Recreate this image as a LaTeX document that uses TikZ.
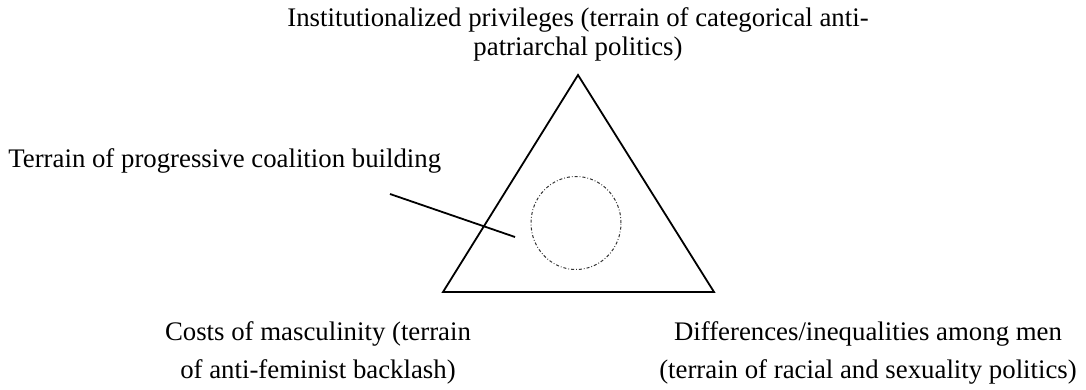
\documentclass[tikz,border=0pt]{standalone}
\usepackage{fontspec}
\setmainfont{Liberation Serif}
\usetikzlibrary{shapes.geometric}
\begin{document}
\begin{tikzpicture}[x=0.5pt,y=-0.5pt,
  lbl/.style={inner sep=0pt,font=\fontsize{13.4}{14.5}\selectfont},
  wide/.style={font=\fontsize{13.4}{19}\selectfont},
  edge/.style={line width=0.9pt},
  ring/.style={line width=0.5pt,black!80,dash pattern=on 1.5pt off 1pt on 0.4pt off 1pt}]
\useasboundingbox (0,0) rectangle (1086,390);
\coordinate (A) at (578,75);
\coordinate (B) at (443,292);
\coordinate (C) at (714,292);
\draw[edge,line join=miter] (A) -- (B) -- (C) -- cycle;
\node[ring,draw,ellipse,minimum width=45pt,minimum height=46.5pt,inner sep=0pt] (circ) at (576,223) {};
\node[lbl,anchor=base,align=center] (top) at (578,56) {Institutionalized privileges (terrain of categorical anti-\\patriarchal politics)};
\node[lbl,anchor=base west] (terr) at (8,167) {Terrain of progressive coalition building};
\coordinate (p1) at (390,194);
\coordinate (p2) at (515,237);
\draw[edge] (p1) -- (p2);
\node[lbl,wide,anchor=base,align=center] (cost) at (318,378) {Costs of masculinity (terrain\\of anti-feminist backlash)};
\node[lbl,wide,anchor=base,align=center] (diff) at (868,378) {Differences/inequalities among men\\(terrain of racial and sexuality politics)};
\end{tikzpicture}
\end{document}
